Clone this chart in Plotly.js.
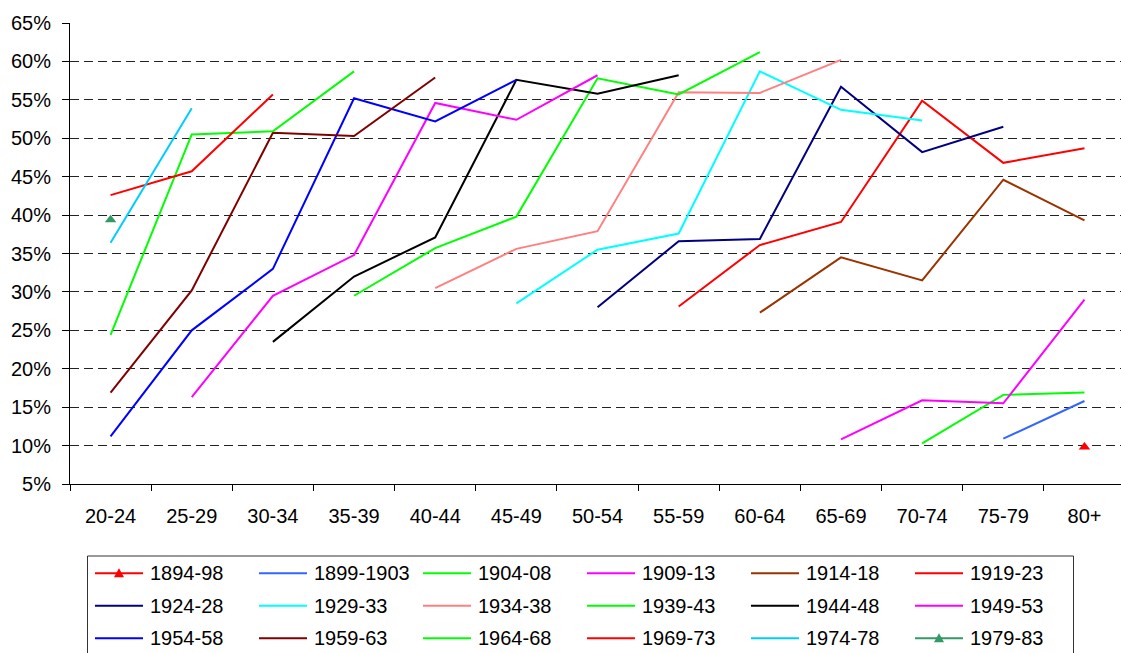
<!DOCTYPE html>
<html>
<head>
<meta charset="utf-8">
<script src="https://cdn.plot.ly/plotly-3.0.1.min.js"></script>
<style>
  html, body { margin: 0; padding: 0; background: #fff; }
  #chart { width: 1121px; height: 653px; }
</style>
</head>
<body>
<div id="chart"></div>
<script>
// Age groups along the x axis
const ageGroups = ['20-24', '25-29', '30-34', '35-39', '40-44', '45-49', '50-54',
                   '55-59', '60-64', '65-69', '70-74', '75-79', '80+'];

// Birth cohorts (series names, in legend order)
const cohorts = ['1894-98', '1899-1903', '1904-08', '1909-13', '1914-18', '1919-23',
                 '1924-28', '1929-33', '1934-38', '1939-43', '1944-48', '1949-53',
                 '1954-58', '1959-63', '1964-68', '1969-73', '1974-78', '1979-83'];

// Rates (%) per age group for each cohort; null where the cohort was not observed
const _ = null;
const c1894_98   = [_, _, _, _, _, _, _, _, _, _, _, _, 9.8];
const c1899_1903 = [_, _, _, _, _, _, _, _, _, _, _, 10.9, 15.8];
const c1904_08   = [_, _, _, _, _, _, _, _, _, _, 10.3, 16.6, 16.9];
const c1909_13   = [_, _, _, _, _, _, _, _, _, 10.8, 15.9, 15.5, 29.0];
const c1914_18   = [_, _, _, _, _, _, _, _, 27.3, 34.5, 31.5, 44.6, 39.3];
const c1919_23   = [_, _, _, _, _, _, _, 28.1, 36.1, 39.1, 54.9, 46.8, 48.7];
const c1924_28   = [_, _, _, _, _, _, 28.0, 36.6, 36.9, 56.7, 48.2, 51.5, _];
const c1929_33   = [_, _, _, _, _, 28.5, 35.5, 37.6, 58.7, 53.7, 52.3, _, _];
const c1934_38   = [_, _, _, _, 30.5, 35.6, 37.9, 56.0, 55.9, 60.2, _, _, _];
const c1939_43   = [_, _, _, 29.5, 35.7, 39.8, 57.8, 55.7, 61.2, _, _, _, _];
const c1944_48   = [_, _, 23.5, 32.0, 37.1, 57.6, 55.8, 58.2, _, _, _, _, _];
const c1949_53   = [_, 16.3, 29.5, 34.8, 54.6, 52.4, 58.2, _, _, _, _, _, _];
const c1954_58   = [11.2, 25.0, 33.0, 55.2, 52.2, 57.6, _, _, _, _, _, _, _];
const c1959_63   = [16.9, 30.2, 50.7, 50.3, 57.9, _, _, _, _, _, _, _, _];
const c1964_68   = [24.4, 50.5, 50.9, 58.7, _, _, _, _, _, _, _, _, _];
const c1969_73   = [42.6, 45.7, 55.7, _, _, _, _, _, _, _, _, _, _];
const c1974_78   = [36.4, 53.9, _, _, _, _, _, _, _, _, _, _, _];
const c1979_83   = [39.4, _, _, _, _, _, _, _, _, _, _, _, _];

const seriesValues = [c1894_98, c1899_1903, c1904_08, c1909_13, c1914_18, c1919_23,
                      c1924_28, c1929_33, c1934_38, c1939_43, c1944_48, c1949_53,
                      c1954_58, c1959_63, c1964_68, c1969_73, c1974_78, c1979_83];

// Line colours per cohort
const lineColors = ['#FF0000', '#3366FF', '#00FF00', '#FF00FF', '#993300', '#FF0000',
                    '#000080', '#00FFFF', '#FF8080', '#00FF00', '#000000', '#FF00FF',
                    '#0000FF', '#800000', '#00FF00', '#FF0000', '#00CCFF', '#339966'];
// Cohorts shown with a triangle marker
const markerCohorts = ['1894-98', '1979-83'];

const FONT = 'Arial, "Liberation Sans", sans-serif';
const W = 1121, H = 653;
const M = { l: 70, r: 0, t: 23, b: 169 };
const plotW = W - M.l - M.r, plotH = H - M.t - M.b;
const px = x => (x - M.l) / plotW;          // pixel x -> paper x
const py = y => (H - M.b - y) / plotH;      // pixel y -> paper y

const traces = cohorts.map((name, i) => {
  const withMarker = markerCohorts.includes(name);
  return {
    type: 'scatter',
    mode: withMarker ? 'lines+markers' : 'lines',
    name: name,
    x: ageGroups,
    y: seriesValues[i],
    connectgaps: false,
    line: { color: lineColors[i], width: 2 },
    marker: { symbol: 'triangle-up', size: 10, color: lineColors[i] },
    showlegend: false,
    hoverinfo: 'x+y+name'
  };
});

// Legend box: six columns, three rows
const shapes = [];
const annotations = [];
const box = { left: 87.5, top: 556, right: 1073.5, bottom: 700 };
shapes.push({
  type: 'rect', xref: 'paper', yref: 'paper',
  x0: px(box.left), x1: px(box.right), y0: py(box.bottom), y1: py(box.top),
  line: { color: '#333333', width: 1 }, fillcolor: 'rgba(0,0,0,0)', layer: 'above'
});
const colStep = 164, rowStep = 32.5;
cohorts.forEach((name, i) => {
  const col = i % 6, row = Math.floor(i / 6);
  const x0 = 95 + col * colStep, x1 = x0 + 48;
  const yc = 573.3 + row * rowStep;
  shapes.push({
    type: 'line', xref: 'paper', yref: 'paper',
    x0: px(x0), x1: px(x1), y0: py(yc), y1: py(yc),
    line: { color: lineColors[i], width: 2 }
  });
  if (markerCohorts.includes(name)) {
    const cx = (x0 + x1) / 2;
    shapes.push({
      type: 'path', xref: 'paper', yref: 'paper',
      path: `M ${px(cx - 5)} ${py(yc + 4)} L ${px(cx + 5)} ${py(yc + 4)} L ${px(cx)} ${py(yc - 5)} Z`,
      fillcolor: lineColors[i], line: { color: lineColors[i], width: 0 }
    });
  }
  annotations.push({
    xref: 'paper', yref: 'paper', x: px(x1 + 5), y: py(yc),
    xanchor: 'left', yanchor: 'middle', showarrow: false,
    text: name, font: { family: FONT, size: 20, color: '#000' }
  });
});

const layout = {
  width: W, height: H,
  margin: M,
  paper_bgcolor: '#fff', plot_bgcolor: '#fff',
  font: { family: FONT, size: 20, color: '#000' },
  showlegend: false,
  xaxis: {
    type: 'category',
    range: [-0.5, 12.45],
    showgrid: false, zeroline: false,
    showline: true, linecolor: '#000', linewidth: 1,
    ticks: 'outside', ticklen: 6, tickcolor: '#000', tickson: 'boundaries',
    ticklabelstandoff: 14,
    tickfont: { family: FONT, size: 20, color: '#000' },
    fixedrange: true
  },
  yaxis: {
    range: [5, 65], dtick: 5, ticksuffix: '%',
    showgrid: true, gridcolor: '#222', gridwidth: 1, griddash: '9px,5px',
    zeroline: false,
    showline: true, linecolor: '#000', linewidth: 1,
    ticks: 'outside', ticklen: 7, tickcolor: '#000',
    ticklabelstandoff: 7,
    tickfont: { family: FONT, size: 20, color: '#000' },
    fixedrange: true
  },
  shapes: shapes,
  annotations: annotations
};

Plotly.newPlot('chart', traces, layout, { displayModeBar: false, staticPlot: true });
</script>
</body>
</html>
